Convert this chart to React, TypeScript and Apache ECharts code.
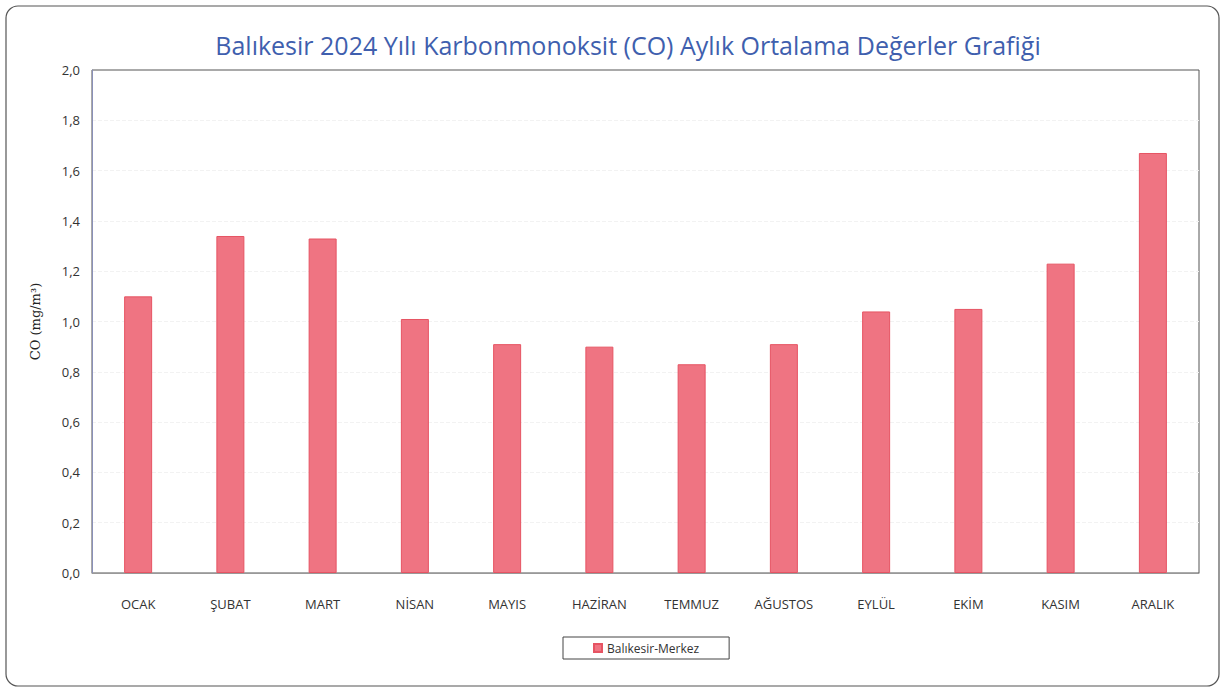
import React, { useEffect, useRef } from "react";
import * as echarts from "echarts";

const categories = ["OCAK", "ŞUBAT", "MART", "NİSAN", "MAYIS", "HAZİRAN", "TEMMUZ", "AĞUSTOS", "EYLÜL", "EKİM", "KASIM", "ARALIK"];
const values = [1.10, 1.34, 1.33, 1.01, 0.91, 0.90, 0.83, 0.91, 1.04, 1.05, 1.23, 1.67];
const seriesName = "Balıkesir-Merkez";
const title = "Balıkesir 2024 Yılı Karbonmonoksit (CO) Aylık Ortalama Değerler Grafiği";

export default function App() {
  const ref = useRef<HTMLDivElement>(null);
  useEffect(() => {
    const chart = echarts.init(ref.current!, null, { renderer: "svg" });
    chart.setOption({
      animation: false,
      backgroundColor: "#ffffff",
      title: {
        text: title,
        left: 623,
        textAlign: "center",
        top: 27,
        textStyle: { fontFamily: "Open Sans", fontSize: 25, fontWeight: "normal", color: "#3f5fae" },
      },
      graphic: [
        {
          type: "rect",
          shape: { x: 6, y: 6, width: 1213, height: 680, r: 12 },
          style: { fill: "none", stroke: "#555", lineWidth: 1.2 },
          z: -1,
        },
      ],
      legend: {
        data: [seriesName],
        left: 563,
        top: 637,
        width: 170,
        padding: [5, 30, 5, 30],
        borderColor: "#444",
        borderWidth: 1,
        icon: "rect",
        itemWidth: 8,
        itemHeight: 8,
        itemGap: 6,
        textStyle: { fontFamily: "Open Sans", fontSize: 12, color: "#333" },
      },
      grid: {
        left: 92,
        right: 26,
        top: 70,
        bottom: 121,
        show: true,
        borderColor: "#555",
        borderWidth: 1,
        containLabel: false,
      },
      xAxis: {
        type: "category",
        data: categories,
        axisLine: { lineStyle: { color: "#999" } },
        axisTick: { show: false },
        axisLabel: { fontFamily: "Open Sans", fontSize: 13, color: "#333", margin: 24 },
      },
      yAxis: {
        type: "value",
        min: 0,
        max: 2,
        interval: 0.2,
        name: "CO (mg/m³)",
        nameLocation: "middle",
        nameGap: 50,
        nameTextStyle: { fontFamily: "DejaVu Serif", fontSize: 13, color: "#222" },
        axisLine: { show: true, lineStyle: { color: "#8a90b8" } },
        axisTick: { show: false },
        axisLabel: {
          fontFamily: "Open Sans",
          fontSize: 13,
          color: "#333",
          margin: 12,
          formatter: (v: number) => v.toFixed(1).replace(".", ","),
        },
        splitLine: { show: true, showMaxLine: false, showMinLine: false, lineStyle: { color: "#f2f2f2", type: "dashed" } },
      },
      series: [
        {
          name: seriesName,
          type: "bar",
          data: values,
          barWidth: 28,
          itemStyle: { color: "#ef7482", borderColor: "#e65463", borderWidth: 1 },
        },
      ],
    });
    return () => chart.dispose();
  }, []);
  return <div ref={ref} style={{ position: "fixed", left: 0, top: 0, width: 1225, height: 694 }} />;
}
